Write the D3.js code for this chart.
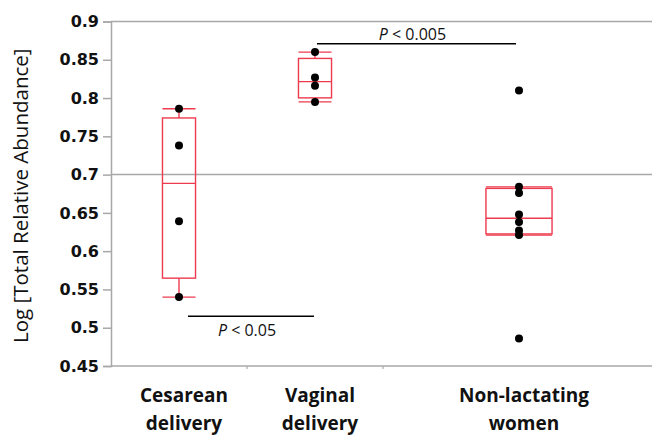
<!DOCTYPE html>
<html>
<head>
<meta charset="utf-8">
<script src="https://cdn.jsdelivr.net/npm/d3@7"></script>
<style>
  body { margin: 0; background: #fff; }
  svg { display: block; font-family: "Open Sans", sans-serif; }
</style>
</head>
<body>
<div id="chart"></div>
<script>
// data
const categories = [["Cesarean", "delivery"], ["Vaginal", "delivery"], ["Non-lactating", "women"]];
const cesarean = [0.786, 0.738, 0.639, 0.540];
const vaginal = [0.860, 0.827, 0.816, 0.795];
const nonLactating = [0.810, 0.684, 0.676, 0.648, 0.638, 0.627, 0.621, 0.486];
const yTicks = [0.45, 0.5, 0.55, 0.6, 0.65, 0.7, 0.75, 0.8, 0.85, 0.9];
const refLine = 0.7;
const sigLabels = ["0.05", "0.005"];
const sigLevels = [0.515, 0.871];

const groups = [cesarean, vaginal, nonLactating];

const width = 652, height = 436;
const plotLeft = 111, plotTop = 21.5, plotBottom = 366, plotRight = 655;

const svg = d3.select("#chart").append("svg")
    .attr("width", width)
    .attr("height", height);

// category widths follow group sizes (JMP style)
const counts = groups.map(g => g.length);
const cum = [0];
counts.forEach(n => cum.push(cum[cum.length - 1] + n));
const x = d3.scaleLinear().domain([0, cum[cum.length - 1]]).range([plotLeft, plotRight]);
const y = d3.scaleLinear().domain([0.45, 0.9]).range([plotBottom, plotTop]);
const center = i => x(cum[i] + counts[i] / 2);
const unit = x(1) - x(0);

// quantile with (n+1)p positions
function quant(sorted, p) {
    const pos = (sorted.length + 1) * p;
    const lo = Math.max(1, Math.min(sorted.length, Math.floor(pos)));
    const hi = Math.min(sorted.length, lo + 1);
    const f = pos - Math.floor(pos);
    return sorted[lo - 1] + f * (sorted[hi - 1] - sorted[lo - 1]);
}

const grey = "#a8a8a8";
const red = "#ee3a4e";

// y axis
const yAxis = svg.append("g")
    .attr("transform", `translate(${plotLeft},0)`)
    .call(d3.axisLeft(y).tickValues(yTicks).tickSize(8).tickPadding(4)
        .tickFormat(d => d3.format("")(+d.toFixed(2))));
yAxis.select(".domain").attr("stroke", grey).attr("stroke-width", 1.5);
yAxis.selectAll(".tick line").attr("stroke", grey).attr("stroke-width", 1.5);
yAxis.selectAll(".tick text")
    .attr("fill", "#111")
    .style("font-family", "'DejaVu Sans', sans-serif")
    .style("font-size", "16px")
    .style("font-weight", "bold");

// top frame, bottom axis, reference line
[0.9, 0.45, refLine].forEach(v => {
    svg.append("line").attr("x1", plotLeft).attr("x2", plotRight).attr("y1", y(v)).attr("y2", y(v))
        .attr("stroke", grey).attr("stroke-width", 1.5);
});

// small ticks between categories
svg.selectAll(".xtick").data(cum.slice(1, -1)).enter().append("line")
    .attr("x1", d => x(d)).attr("x2", d => x(d))
    .attr("y1", y(0.45)).attr("y2", y(0.45) + 3)
    .attr("stroke", grey).attr("stroke-width", 1.2);

// category labels
categories.forEach((lines, i) => {
    const t = svg.append("text")
        .attr("x", center(i) + 5)
        .attr("y", 402)
        .attr("text-anchor", "middle")
        .style("font-size", "19px")
        .style("font-weight", "bold")
        .attr("fill", "#111");
    lines.forEach((s, j) => {
        t.append("tspan").attr("x", center(i) + 5).attr("dy", j === 0 ? 0 : 28).text(s);
    });
});

// y title
svg.append("text")
    .attr("transform", `translate(28,${(plotTop + plotBottom) / 2 + 2}) rotate(-90)`)
    .attr("text-anchor", "middle")
    .style("font-size", "20.5px")
    .attr("fill", "#111")
    .text("Log [Total Relative Abundance]");

// boxes
groups.forEach((g, i) => {
    const s = g.slice().sort(d3.ascending);
    const q1 = quant(s, 0.25), med = quant(s, 0.5), q3 = quant(s, 0.75);
    const iqr = q3 - q1;
    const lowW = d3.min(s.filter(v => v >= q1 - 1.5 * iqr));
    const highW = d3.max(s.filter(v => v <= q3 + 1.5 * iqr));
    const cx = center(i);
    const bw = unit * counts[i] * 0.243;
    const box = svg.append("g").attr("fill", "none").attr("stroke", red).attr("stroke-width", 1.4);
    box.append("rect")
        .attr("x", cx - bw / 2).attr("width", bw)
        .attr("y", y(q3)).attr("height", y(q1) - y(q3));
    box.append("line").attr("x1", cx - bw / 2).attr("x2", cx + bw / 2)
        .attr("y1", y(med)).attr("y2", y(med));
    [[q3, highW], [q1, lowW]].forEach(([a, b]) => {
        box.append("line").attr("x1", cx).attr("x2", cx).attr("y1", y(a)).attr("y2", y(b));
        box.append("line").attr("x1", cx - bw / 2).attr("x2", cx + bw / 2)
            .attr("y1", y(b)).attr("y2", y(b));
    });
    svg.selectAll(null).data(g).enter().append("circle")
        .attr("cx", cx)
        .attr("cy", d => y(d))
        .attr("r", 4)
        .attr("fill", "#000");
});

// significance bars
const sig = [
    { level: sigLevels[0], label: sigLabels[0], x1: center(0) + 9, x2: center(1) - 1, ty: 20 },
    { level: sigLevels[1], label: sigLabels[1], x1: center(1) + 2, x2: center(2) - 3, ty: -4 }
];
sig.forEach(d => {
    svg.append("line")
        .attr("x1", d.x1).attr("x2", d.x2)
        .attr("y1", y(d.level)).attr("y2", y(d.level))
        .attr("stroke", "#000").attr("stroke-width", 1.5);
    const t = svg.append("text")
        .attr("x", (d.x1 + d.x2) / 2 - 4)
        .attr("y", y(d.level) + d.ty)
        .attr("text-anchor", "middle")
        .style("font-size", "16px")
        .attr("fill", "#111");
    t.append("tspan").style("font-style", "italic").text("P");
    t.append("tspan").text(" < " + d.label);
});
</script>
</body>
</html>
